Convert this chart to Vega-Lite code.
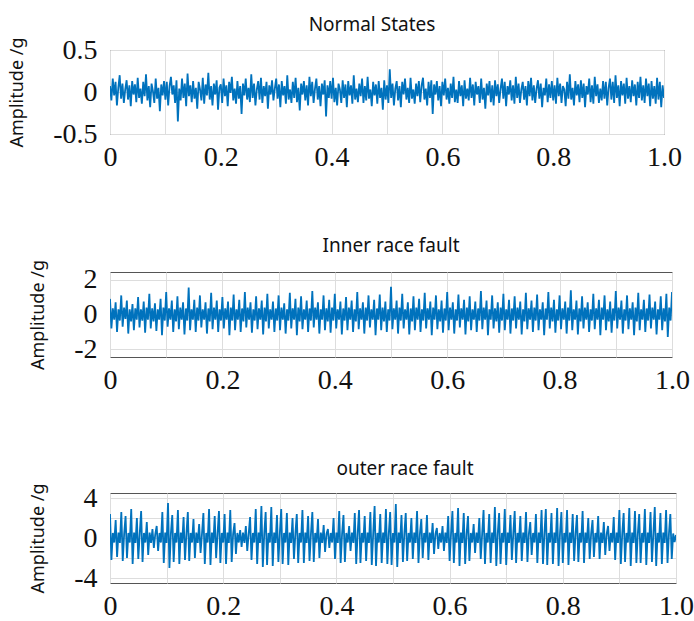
{
"$schema": "https://vega.github.io/schema/vega-lite/v6.json",
"background": "white",
"padding": {"left": 8, "top": 15, "right": 0, "bottom": 0},
"spacing": 64,
"config": {
  "view": {"stroke": "#555", "strokeWidth": 1},
  "axis": {"labelFont": "Liberation Serif", "labelFontSize": 28, "labelColor": "#111", "titleFont": "Noto Sans", "titleFontSize": 18, "titleFontWeight": "normal", "titleColor": "#111", "gridColor": "#dddddd", "gridWidth": 1, "domain": false, "ticks": false, "labelOverlap": false, "labelFlush": false},
  "axisX": {"labelPadding": 9, "labelDx": -6},
  "axisY": {"labelPadding": 13, "titlePadding": 26, "grid": true},
  "title": {"font": "Noto Sans", "fontSize": 19, "fontWeight": "normal", "color": "#111", "frame": "group", "anchor": "middle", "offset": 4}
},
"data": {"values": [
{"t":0,"n":0.07,"i":0.9,"o":2.4},{"t":0.0025,"n":-0.1,"i":-0.8,"o":-2.2},{"t":0.005,"n":0.16,"i":0.35,"o":0.5},{"t":0.0075,"n":-0.04,"i":-0.3,"o":-0.45},{"t":0.01,"n":0.12,"i":0.7,"o":1.8},{"t":0.0125,"n":-0.16,"i":-1.0,"o":-1.9},{"t":0.015,"n":0.05,"i":0.3,"o":0.55},{"t":0.0175,"n":0.2,"i":-0.35,"o":-0.5},{"t":0.02,"n":-0.08,"i":1.1,"o":2.6},{"t":0.0225,"n":0.1,"i":-0.7,"o":-2.3},{"t":0.025,"n":-0.13,"i":0.4,"o":0.4},{"t":0.0275,"n":0.03,"i":-0.25,"o":2.2},{"t":0.03,"n":0.14,"i":0.8,"o":-2.0},{"t":0.0325,"n":-0.09,"i":-1.1,"o":0.5},{"t":0.035,"n":0.08,"i":0.3,"o":-0.45},{"t":0.0375,"n":-0.17,"i":-0.4,"o":2.9},{"t":0.04,"n":0.13,"i":0.6,"o":-2.6},{"t":0.0425,"n":-0.03,"i":-0.9,"o":0.55},{"t":0.045,"n":0.09,"i":0.35,"o":-0.5},{"t":0.0475,"n":-0.12,"i":-0.3,"o":2.0},
{"t":0.05,"n":0.17,"i":1.0,"o":-2.1},{"t":0.0525,"n":-0.07,"i":-0.75,"o":0.4},{"t":0.055,"n":0.04,"i":0.3,"o":2.7},{"t":0.0575,"n":-0.14,"i":-0.35,"o":-2.4},{"t":0.06,"n":0.12,"i":0.75,"o":0.5},{"t":0.0625,"n":-0.05,"i":-1.05,"o":-0.45},{"t":0.065,"n":0.21,"i":0.4,"o":1.6},{"t":0.0675,"n":-0.1,"i":-0.3,"o":-1.7},{"t":0.07,"n":0.07,"i":1.2,"o":0.55},{"t":0.0725,"n":-0.18,"i":-0.8,"o":-0.5},{"t":0.075,"n":0.1,"i":0.35,"o":0.9},{"t":0.0775,"n":0.01,"i":-0.4,"o":-1.0},{"t":0.08,"n":-0.13,"i":0.65,"o":0.4},{"t":0.0825,"n":0.16,"i":-0.95,"o":1.2},{"t":0.085,"n":-0.08,"i":0.3,"o":-1.3},{"t":0.0875,"n":0.05,"i":-0.3,"o":0.5},{"t":0.09,"n":-0.23,"i":0.9,"o":-0.45},{"t":0.0925,"n":0.09,"i":-1.2,"o":2.6},{"t":0.095,"n":-0.04,"i":0.4,"o":-2.5},{"t":0.0975,"n":0.13,"i":-0.35,"o":0.55},
{"t":0.1,"n":-0.09,"i":1.3,"o":-0.5},{"t":0.1025,"n":0.12,"i":-0.7,"o":3.5},{"t":0.105,"n":-0.16,"i":0.35,"o":-3.0},{"t":0.1075,"n":0.07,"i":-0.3,"o":0.4},{"t":0.11,"n":0.18,"i":0.8,"o":2.3},{"t":0.1125,"n":-0.03,"i":-1.0,"o":-2.4},{"t":0.115,"n":0.08,"i":0.3,"o":0.5},{"t":0.1175,"n":-0.13,"i":-0.4,"o":-0.45},{"t":0.12,"n":0.14,"i":1.05,"o":2.8},{"t":0.1225,"n":-0.35,"i":-0.85,"o":-2.6},{"t":0.125,"n":0.04,"i":0.4,"o":0.55},{"t":0.1275,"n":-0.1,"i":-0.3,"o":-0.5},{"t":0.13,"n":0.16,"i":0.7,"o":2.1},{"t":0.1325,"n":-0.07,"i":-1.15,"o":-2.2},{"t":0.135,"n":0.1,"i":0.35,"o":0.4},{"t":0.1375,"n":-0.17,"i":-0.35,"o":2.6},{"t":0.14,"n":0.22,"i":1.55,"o":-2.3},{"t":0.1425,"n":-0.05,"i":-0.9,"o":0.5},{"t":0.145,"n":0.08,"i":0.3,"o":-0.45},{"t":0.1475,"n":-0.12,"i":-0.3,"o":1.9},
{"t":0.15,"n":0.13,"i":0.85,"o":-2.0},{"t":0.1525,"n":-0.08,"i":-1.0,"o":0.55},{"t":0.155,"n":0.05,"i":0.4,"o":-0.5},{"t":0.1575,"n":-0.2,"i":-0.35,"o":1.4},{"t":0.16,"n":0.12,"i":1.1,"o":-1.5},{"t":0.1625,"n":0.03,"i":-0.75,"o":0.4},{"t":0.165,"n":-0.1,"i":0.3,"o":2.5},{"t":0.1675,"n":0.17,"i":-0.3,"o":-2.6},{"t":0.17,"n":-0.14,"i":0.7,"o":0.5},{"t":0.1725,"n":0.09,"i":-1.1,"o":-0.45},{"t":0.175,"n":-0.04,"i":0.35,"o":2.9},{"t":0.1775,"n":0.23,"i":-0.4,"o":-2.7},{"t":0.18,"n":-0.09,"i":1.25,"o":0.55},{"t":0.1825,"n":0.07,"i":-0.85,"o":-0.5},{"t":0.185,"n":-0.16,"i":0.4,"o":2.2},{"t":0.1875,"n":0.1,"i":-0.3,"o":-2.0},{"t":0.19,"n":-0.03,"i":0.8,"o":0.4},{"t":0.1925,"n":0.14,"i":-1.0,"o":2.7},{"t":0.195,"n":-0.21,"i":0.3,"o":-2.5},{"t":0.1975,"n":0.05,"i":-0.35,"o":0.5},
{"t":0.2,"n":0.09,"i":1.0,"o":-0.45},{"t":0.2025,"n":-0.13,"i":-0.8,"o":2.4},{"t":0.205,"n":0.16,"i":0.35,"o":-2.6},{"t":0.2075,"n":-0.05,"i":-0.3,"o":0.55},{"t":0.21,"n":0.08,"i":0.75,"o":-0.5},{"t":0.2125,"n":-0.17,"i":-1.2,"o":2.8},{"t":0.215,"n":0.12,"i":0.4,"o":-2.4},{"t":0.2175,"n":-0.01,"i":-0.35,"o":0.4},{"t":0.22,"n":0.18,"i":1.15,"o":1.5},{"t":0.2225,"n":-0.1,"i":-0.9,"o":-1.6},{"t":0.225,"n":0.04,"i":0.3,"o":0.5},{"t":0.2275,"n":-0.14,"i":-0.3,"o":-0.45},{"t":0.23,"n":0.13,"i":0.85,"o":0.8},{"t":0.2325,"n":-0.08,"i":-1.0,"o":-0.9},{"t":0.235,"n":0.07,"i":0.35,"o":0.55},{"t":0.2375,"n":-0.26,"i":-0.4,"o":-0.5},{"t":0.24,"n":0.1,"i":1.3,"o":1.2},{"t":0.2425,"n":-0.04,"i":-0.75,"o":-1.3},{"t":0.245,"n":0.16,"i":0.4,"o":0.4},{"t":0.2475,"n":-0.09,"i":-0.3,"o":2.1},
{"t":0.25,"n":0.05,"i":0.7,"o":-2.2},{"t":0.2525,"n":-0.12,"i":-1.05,"o":0.5},{"t":0.255,"n":0.21,"i":0.3,"o":-0.45},{"t":0.2575,"n":-0.07,"i":-0.35,"o":2.9},{"t":0.26,"n":0.1,"i":1.05,"o":-2.6},{"t":0.2625,"n":-0.16,"i":-0.85,"o":0.55},{"t":0.265,"n":0.03,"i":0.35,"o":-0.5},{"t":0.2675,"n":0.13,"i":-0.3,"o":3.2},{"t":0.27,"n":-0.09,"i":0.8,"o":-2.9},{"t":0.2725,"n":0.17,"i":-1.15,"o":0.4},{"t":0.275,"n":-0.13,"i":0.4,"o":2.6},{"t":0.2775,"n":0.07,"i":-0.4,"o":-2.7},{"t":0.28,"n":-0.05,"i":1.2,"o":0.5},{"t":0.2825,"n":0.12,"i":-0.8,"o":-0.45},{"t":0.285,"n":-0.2,"i":0.3,"o":3.1},{"t":0.2875,"n":0.08,"i":-0.3,"o":-2.8},{"t":0.29,"n":-0.03,"i":0.75,"o":0.55},{"t":0.2925,"n":0.14,"i":-1.0,"o":-0.5},{"t":0.295,"n":-0.1,"i":0.35,"o":2.3},{"t":0.2975,"n":0.04,"i":-0.35,"o":-2.4},
{"t":0.3,"n":0.16,"i":1.1,"o":0.4},{"t":0.3025,"n":-0.08,"i":-0.9,"o":2.9},{"t":0.305,"n":0.09,"i":0.4,"o":-2.6},{"t":0.3075,"n":-0.18,"i":-0.3,"o":0.5},{"t":0.31,"n":0.13,"i":0.65,"o":-0.45},{"t":0.3125,"n":-0.04,"i":-1.1,"o":2.5},{"t":0.315,"n":0.07,"i":0.3,"o":-2.7},{"t":0.3175,"n":-0.14,"i":-0.35,"o":0.55},{"t":0.32,"n":0.2,"i":1.25,"o":-0.5},{"t":0.3225,"n":-0.09,"i":-0.8,"o":2.0},{"t":0.325,"n":0.03,"i":0.35,"o":-2.1},{"t":0.3275,"n":-0.13,"i":-0.3,"o":0.4},{"t":0.33,"n":0.12,"i":0.9,"o":2.4},{"t":0.3325,"n":-0.07,"i":-1.2,"o":-2.5},{"t":0.335,"n":0.17,"i":0.4,"o":0.5},{"t":0.3375,"n":-0.12,"i":-0.4,"o":-0.45},{"t":0.34,"n":0.05,"i":1.05,"o":2.8},{"t":0.3425,"n":-0.22,"i":-0.85,"o":-2.5},{"t":0.345,"n":0.1,"i":0.3,"o":0.55},{"t":0.3475,"n":-0.03,"i":-0.3,"o":-0.5},
{"t":0.35,"n":0.13,"i":0.8,"o":2.2},{"t":0.3525,"n":-0.1,"i":-1.0,"o":-2.3},{"t":0.355,"n":0.08,"i":0.35,"o":0.4},{"t":0.3575,"n":-0.16,"i":-0.35,"o":2.6},{"t":0.36,"n":0.18,"i":1.35,"o":-2.4},{"t":0.3625,"n":-0.05,"i":-0.75,"o":0.5},{"t":0.365,"n":0.12,"i":0.4,"o":-0.45},{"t":0.3675,"n":-0.13,"i":-0.3,"o":1.9},{"t":0.37,"n":0.04,"i":0.7,"o":-2.0},{"t":0.3725,"n":0.16,"i":-1.1,"o":0.55},{"t":0.375,"n":-0.09,"i":0.3,"o":-0.5},{"t":0.3775,"n":0.07,"i":-0.3,"o":1.3},{"t":0.38,"n":-0.17,"i":1.1,"o":-1.4},{"t":0.3825,"n":0.1,"i":-0.9,"o":0.4},{"t":0.385,"n":-0.03,"i":0.35,"o":0.9},{"t":0.3875,"n":0.14,"i":-0.4,"o":-1.0},{"t":0.39,"n":-0.29,"i":0.85,"o":0.5},{"t":0.3925,"n":0.08,"i":-1.05,"o":-0.45},{"t":0.395,"n":-0.07,"i":0.4,"o":2.0},{"t":0.3975,"n":0.13,"i":-0.35,"o":-2.1},
{"t":0.4,"n":-0.08,"i":1.2,"o":0.55},{"t":0.4025,"n":0.17,"i":-0.8,"o":-0.5},{"t":0.405,"n":-0.12,"i":0.3,"o":2.7},{"t":0.4075,"n":0.05,"i":-0.3,"o":-2.5},{"t":0.41,"n":-0.16,"i":0.75,"o":0.4},{"t":0.4125,"n":0.1,"i":-1.15,"o":2.3},{"t":0.415,"n":0.03,"i":0.35,"o":-2.4},{"t":0.4175,"n":-0.13,"i":-0.35,"o":0.5},{"t":0.42,"n":0.14,"i":1.0,"o":-0.45},{"t":0.4225,"n":-0.07,"i":-0.9,"o":1.2},{"t":0.425,"n":0.09,"i":0.4,"o":-1.3},{"t":0.4275,"n":-0.18,"i":-0.3,"o":0.55},{"t":0.43,"n":0.13,"i":0.8,"o":-0.5},{"t":0.4325,"n":-0.04,"i":-1.0,"o":2.5},{"t":0.435,"n":0.08,"i":0.3,"o":-2.6},{"t":0.4375,"n":-0.14,"i":-0.4,"o":0.4},{"t":0.44,"n":0.2,"i":1.3,"o":2.8},{"t":0.4425,"n":-0.09,"i":-0.85,"o":-2.5},{"t":0.445,"n":0.04,"i":0.35,"o":0.5},{"t":0.4475,"n":-0.12,"i":-0.3,"o":-0.45},
{"t":0.45,"n":0.1,"i":0.7,"o":2.2},{"t":0.4525,"n":-0.05,"i":-1.1,"o":-2.3},{"t":0.455,"n":0.16,"i":0.4,"o":0.55},{"t":0.4575,"n":-0.13,"i":-0.35,"o":-0.5},{"t":0.46,"n":0.07,"i":1.1,"o":2.6},{"t":0.4625,"n":-0.1,"i":-0.75,"o":-2.7},{"t":0.465,"n":0.18,"i":0.3,"o":0.4},{"t":0.4675,"n":-0.08,"i":-0.3,"o":3.2},{"t":0.47,"n":0.03,"i":0.85,"o":-2.8},{"t":0.4725,"n":-0.17,"i":-1.2,"o":0.5},{"t":0.475,"n":0.12,"i":0.35,"o":-0.45},{"t":0.4775,"n":-0.04,"i":-0.3,"o":2.4},{"t":0.48,"n":0.09,"i":1.15,"o":-2.5},{"t":0.4825,"n":-0.14,"i":-0.9,"o":0.55},{"t":0.485,"n":0.13,"i":0.4,"o":-0.5},{"t":0.4875,"n":-0.07,"i":-0.4,"o":2.9},{"t":0.49,"n":0.05,"i":0.75,"o":-2.6},{"t":0.4925,"n":-0.21,"i":-1.0,"o":0.4},{"t":0.495,"n":0.14,"i":0.3,"o":2.6},{"t":0.4975,"n":-0.09,"i":-0.35,"o":-2.7},
{"t":0.5,"n":0.08,"i":1.6,"o":0.5},{"t":0.5025,"n":-0.13,"i":-0.85,"o":-0.45},{"t":0.505,"n":0.27,"i":0.35,"o":3.4},{"t":0.5075,"n":-0.07,"i":-0.3,"o":-2.9},{"t":0.51,"n":0.1,"i":0.8,"o":0.55},{"t":0.5125,"n":-0.16,"i":-1.1,"o":-0.5},{"t":0.515,"n":0.04,"i":0.4,"o":2.3},{"t":0.5175,"n":0.13,"i":-0.35,"o":-2.4},{"t":0.52,"n":-0.1,"i":1.2,"o":0.4},{"t":0.5225,"n":0.07,"i":-0.8,"o":2.5},{"t":0.525,"n":-0.18,"i":0.3,"o":-2.3},{"t":0.5275,"n":0.12,"i":-0.3,"o":0.5},{"t":0.53,"n":-0.03,"i":0.7,"o":-0.45},{"t":0.5325,"n":0.16,"i":-1.15,"o":2.0},{"t":0.535,"n":-0.09,"i":0.35,"o":-2.1},{"t":0.5375,"n":0.05,"i":-0.4,"o":0.55},{"t":0.54,"n":-0.13,"i":1.05,"o":-0.5},{"t":0.5425,"n":0.17,"i":-0.9,"o":2.7},{"t":0.545,"n":-0.08,"i":0.4,"o":-2.5},{"t":0.5475,"n":0.03,"i":-0.3,"o":0.4},
{"t":0.55,"n":-0.14,"i":0.9,"o":1.9},{"t":0.5525,"n":0.1,"i":-1.0,"o":-2.0},{"t":0.555,"n":-0.05,"i":0.3,"o":0.5},{"t":0.5575,"n":0.13,"i":-0.35,"o":-0.45},{"t":0.56,"n":-0.12,"i":1.25,"o":2.3},{"t":0.5625,"n":0.08,"i":-0.8,"o":-2.2},{"t":0.565,"n":0.17,"i":0.35,"o":0.55},{"t":0.5675,"n":-0.09,"i":-0.3,"o":-0.5},{"t":0.57,"n":0.04,"i":0.75,"o":1.5},{"t":0.5725,"n":-0.16,"i":-1.2,"o":-1.6},{"t":0.575,"n":0.12,"i":0.4,"o":0.4},{"t":0.5775,"n":-0.07,"i":-0.3,"o":1.0},{"t":0.58,"n":0.14,"i":1.1,"o":-1.1},{"t":0.5825,"n":-0.26,"i":-0.85,"o":0.5},{"t":0.585,"n":0.09,"i":0.3,"o":-0.45},{"t":0.5875,"n":-0.03,"i":-0.4,"o":1.2},{"t":0.59,"n":0.13,"i":0.8,"o":-1.3},{"t":0.5925,"n":-0.1,"i":-1.05,"o":0.55},{"t":0.595,"n":0.07,"i":0.35,"o":-0.5},{"t":0.5975,"n":-0.17,"i":-0.35,"o":2.2},
{"t":0.6,"n":0.12,"i":1.3,"o":-2.3},{"t":0.6025,"n":-0.04,"i":-0.9,"o":0.4},{"t":0.605,"n":0.16,"i":0.4,"o":2.7},{"t":0.6075,"n":-0.09,"i":-0.3,"o":-2.5},{"t":0.61,"n":0.05,"i":0.7,"o":0.5},{"t":0.6125,"n":-0.14,"i":-1.1,"o":-0.45},{"t":0.615,"n":0.1,"i":0.3,"o":3.0},{"t":0.6175,"n":-0.07,"i":-0.35,"o":-2.8},{"t":0.62,"n":0.18,"i":1.15,"o":0.55},{"t":0.6225,"n":-0.12,"i":-0.75,"o":-0.5},{"t":0.625,"n":0.03,"i":0.35,"o":2.5},{"t":0.6275,"n":-0.13,"i":-0.3,"o":-2.6},{"t":0.63,"n":0.13,"i":0.85,"o":0.4},{"t":0.6325,"n":-0.05,"i":-1.15,"o":2.2},{"t":0.635,"n":0.08,"i":0.4,"o":-2.3},{"t":0.6375,"n":-0.17,"i":-0.4,"o":0.5},{"t":0.64,"n":0.14,"i":1.05,"o":-0.45},{"t":0.6425,"n":-0.08,"i":-0.9,"o":1.4},{"t":0.645,"n":0.04,"i":0.3,"o":-1.5},{"t":0.6475,"n":-0.1,"i":-0.3,"o":0.55},
{"t":0.65,"n":0.17,"i":0.75,"o":-0.5},{"t":0.6525,"n":-0.07,"i":-1.0,"o":2.0},{"t":0.655,"n":0.09,"i":0.35,"o":-2.1},{"t":0.6575,"n":-0.16,"i":-0.35,"o":0.4},{"t":0.66,"n":0.12,"i":1.35,"o":2.8},{"t":0.6625,"n":-0.03,"i":-0.85,"o":-2.6},{"t":0.665,"n":0.07,"i":0.4,"o":0.5},{"t":0.6675,"n":-0.13,"i":-0.3,"o":-0.45},{"t":0.67,"n":0.16,"i":0.8,"o":2.4},{"t":0.6725,"n":-0.09,"i":-1.2,"o":-2.5},{"t":0.675,"n":0.05,"i":0.3,"o":0.55},{"t":0.6775,"n":-0.2,"i":-0.3,"o":-0.5},{"t":0.68,"n":0.1,"i":1.1,"o":3.1},{"t":0.6825,"n":-0.04,"i":-0.8,"o":-2.8},{"t":0.685,"n":0.13,"i":0.35,"o":0.4},{"t":0.6875,"n":-0.12,"i":-0.4,"o":2.5},{"t":0.69,"n":0.08,"i":0.7,"o":-2.6},{"t":0.6925,"n":-0.16,"i":-1.05,"o":0.5},{"t":0.695,"n":0.14,"i":0.4,"o":-0.45},{"t":0.6975,"n":-0.05,"i":-0.35,"o":2.9},
{"t":0.7,"n":0.09,"i":1.2,"o":-2.7},{"t":0.7025,"n":-0.13,"i":-0.9,"o":0.55},{"t":0.705,"n":0.04,"i":0.3,"o":-0.5},{"t":0.7075,"n":0.16,"i":-0.3,"o":2.3},{"t":0.71,"n":-0.08,"i":0.85,"o":-2.2},{"t":0.7125,"n":0.12,"i":-1.1,"o":0.4},{"t":0.715,"n":-0.17,"i":0.35,"o":2.7},{"t":0.7175,"n":0.07,"i":-0.35,"o":-2.5},{"t":0.72,"n":-0.03,"i":1.05,"o":0.5},{"t":0.7225,"n":0.14,"i":-0.8,"o":-0.45},{"t":0.725,"n":-0.1,"i":0.4,"o":2.2},{"t":0.7275,"n":0.08,"i":-0.3,"o":-2.3},{"t":0.73,"n":-0.14,"i":0.75,"o":0.55},{"t":0.7325,"n":0.18,"i":-1.15,"o":-0.5},{"t":0.735,"n":-0.07,"i":0.3,"o":2.6},{"t":0.7375,"n":0.1,"i":-0.4,"o":-2.4},{"t":0.74,"n":-0.13,"i":1.25,"o":0.4},{"t":0.7425,"n":0.03,"i":-0.85,"o":1.6},{"t":0.745,"n":0.12,"i":0.35,"o":-1.7},{"t":0.7475,"n":-0.09,"i":-0.3,"o":0.5},
{"t":0.75,"n":0.07,"i":0.8,"o":-0.45},{"t":0.7525,"n":-0.16,"i":-1.0,"o":2.4},{"t":0.755,"n":0.13,"i":0.4,"o":-2.5},{"t":0.7575,"n":-0.05,"i":-0.35,"o":0.55},{"t":0.76,"n":0.17,"i":1.15,"o":-0.5},{"t":0.7625,"n":-0.1,"i":-0.9,"o":2.8},{"t":0.765,"n":0.08,"i":0.3,"o":-2.6},{"t":0.7675,"n":-0.13,"i":-0.3,"o":0.4},{"t":0.77,"n":0.04,"i":0.7,"o":2.9},{"t":0.7725,"n":0.14,"i":-1.2,"o":-2.7},{"t":0.775,"n":-0.08,"i":0.35,"o":0.5},{"t":0.7775,"n":0.1,"i":-0.3,"o":-0.45},{"t":0.78,"n":-0.18,"i":1.3,"o":2.5},{"t":0.7825,"n":0.05,"i":-0.8,"o":-2.6},{"t":0.785,"n":-0.04,"i":0.4,"o":0.55},{"t":0.7875,"n":0.16,"i":-0.4,"o":-0.5},{"t":0.79,"n":-0.12,"i":0.85,"o":3.0},{"t":0.7925,"n":0.09,"i":-1.05,"o":-2.8},{"t":0.795,"n":-0.07,"i":0.3,"o":0.4},{"t":0.7975,"n":0.13,"i":-0.35,"o":2.6},
{"t":0.8,"n":-0.1,"i":1.1,"o":-2.5},{"t":0.8025,"n":0.08,"i":-0.85,"o":0.5},{"t":0.805,"n":-0.14,"i":0.35,"o":-0.45},{"t":0.8075,"n":0.17,"i":-0.3,"o":2.8},{"t":0.81,"n":-0.05,"i":0.75,"o":-2.7},{"t":0.8125,"n":0.1,"i":-1.1,"o":0.55},{"t":0.815,"n":-0.13,"i":0.4,"o":-0.5},{"t":0.8175,"n":0.07,"i":-0.35,"o":2.4},{"t":0.82,"n":0.03,"i":1.4,"o":-2.3},{"t":0.8225,"n":-0.17,"i":-0.9,"o":0.4},{"t":0.825,"n":0.12,"i":0.3,"o":2.3},{"t":0.8275,"n":-0.08,"i":-0.3,"o":-2.4},{"t":0.83,"n":0.21,"i":0.8,"o":0.5},{"t":0.8325,"n":-0.09,"i":-1.15,"o":-0.45},{"t":0.835,"n":0.05,"i":0.35,"o":2.7},{"t":0.8375,"n":-0.16,"i":-0.4,"o":-2.5},{"t":0.84,"n":0.13,"i":1.05,"o":0.55},{"t":0.8425,"n":-0.04,"i":-0.8,"o":-0.5},{"t":0.845,"n":0.09,"i":0.4,"o":2.0},{"t":0.8475,"n":-0.12,"i":-0.3,"o":-2.1},
{"t":0.85,"n":0.14,"i":0.7,"o":0.4},{"t":0.8525,"n":-0.07,"i":-1.0,"o":1.8},{"t":0.855,"n":0.1,"i":0.3,"o":-1.9},{"t":0.8575,"n":-0.18,"i":-0.35,"o":0.5},{"t":0.86,"n":0.07,"i":1.2,"o":-0.45},{"t":0.8625,"n":-0.03,"i":-0.85,"o":2.2},{"t":0.865,"n":0.16,"i":0.35,"o":-2.1},{"t":0.8675,"n":-0.12,"i":-0.3,"o":0.55},{"t":0.87,"n":0.08,"i":0.85,"o":-0.5},{"t":0.8725,"n":-0.14,"i":-1.2,"o":1.6},{"t":0.875,"n":0.18,"i":0.4,"o":-1.7},{"t":0.8775,"n":-0.05,"i":-0.3,"o":0.4},{"t":0.88,"n":0.09,"i":1.1,"o":1.2},{"t":0.8825,"n":-0.13,"i":-0.9,"o":-1.3},{"t":0.885,"n":0.04,"i":0.3,"o":0.5},{"t":0.8875,"n":-0.1,"i":-0.4,"o":-0.45},{"t":0.89,"n":0.13,"i":0.75,"o":2.1},{"t":0.8925,"n":-0.08,"i":-1.05,"o":-2.2},{"t":0.895,"n":0.12,"i":0.35,"o":0.55},{"t":0.8975,"n":-0.16,"i":-0.35,"o":-0.5},
{"t":0.9,"n":0.05,"i":1.35,"o":2.8},{"t":0.9025,"n":0.16,"i":-0.8,"o":-2.6},{"t":0.905,"n":-0.09,"i":0.4,"o":0.4},{"t":0.9075,"n":0.12,"i":-0.3,"o":2.5},{"t":0.91,"n":-0.13,"i":0.8,"o":-2.4},{"t":0.9125,"n":0.2,"i":-1.1,"o":0.5},{"t":0.915,"n":-0.07,"i":0.3,"o":-0.45},{"t":0.9175,"n":0.08,"i":-0.35,"o":3.0},{"t":0.92,"n":-0.17,"i":1.1,"o":-2.8},{"t":0.9225,"n":0.13,"i":-0.85,"o":0.55},{"t":0.925,"n":-0.04,"i":0.35,"o":-0.5},{"t":0.9275,"n":0.1,"i":-0.3,"o":2.7},{"t":0.93,"n":-0.14,"i":0.7,"o":-2.5},{"t":0.9325,"n":0.17,"i":-1.2,"o":0.4},{"t":0.935,"n":-0.08,"i":0.4,"o":2.4},{"t":0.9375,"n":0.07,"i":-0.4,"o":-2.5},{"t":0.94,"n":-0.12,"i":1.25,"o":0.5},{"t":0.9425,"n":0.14,"i":-0.9,"o":-0.45},{"t":0.945,"n":-0.05,"i":0.3,"o":2.9},{"t":0.9475,"n":0.09,"i":-0.3,"o":-2.7},
{"t":0.95,"n":-0.16,"i":0.85,"o":0.55},{"t":0.9525,"n":0.12,"i":-1.0,"o":-0.5},{"t":0.955,"n":-0.07,"i":0.35,"o":2.6},{"t":0.9575,"n":0.18,"i":-0.35,"o":-2.4},{"t":0.96,"n":-0.1,"i":1.15,"o":0.4},{"t":0.9625,"n":0.08,"i":-0.8,"o":3.1},{"t":0.965,"n":-0.13,"i":0.4,"o":-2.8},{"t":0.9675,"n":0.16,"i":-0.3,"o":0.5},{"t":0.97,"n":-0.05,"i":0.75,"o":-0.45},{"t":0.9725,"n":0.1,"i":-1.15,"o":2.5},{"t":0.975,"n":-0.17,"i":0.3,"o":-2.6},{"t":0.9775,"n":0.13,"i":-0.3,"o":0.55},{"t":0.98,"n":-0.08,"i":1.05,"o":-0.5},{"t":0.9825,"n":0.07,"i":-0.9,"o":2.8},{"t":0.985,"n":-0.14,"i":0.35,"o":-2.5},{"t":0.9875,"n":0.17,"i":-0.4,"o":0.4},{"t":0.99,"n":-0.09,"i":1.2,"o":2.4},{"t":0.9925,"n":0.12,"i":-1.3,"o":-2.1},{"t":0.995,"n":-0.18,"i":0.4,"o":0.45},{"t":0.9975,"n":0.08,"i":-0.35,"o":-0.4},
{"t":1,"n":-0.07,"i":1.3,"o":0.3}
]},
"vconcat": [
  {
    "width": 554, "height": 84,
    "title": {"text": "Normal States", "dx": -15, "offset": 1},
    "mark": {"type": "line", "color": "#0072BD", "strokeWidth": 1.8, "clip": true},
    "encoding": {
      "x": {"field": "t", "type": "quantitative", "title": null, "scale": {"domain": [0, 1], "nice": false, "zero": false},
            "axis": {"values": [0, 0.1, 0.2, 0.3, 0.4, 0.5, 0.6, 0.7, 0.8, 0.9, 1], "labelExpr": "datum.value == 1 ? '1.0' : (round(datum.value * 10) % 2 == 0 ? '' + datum.value : '')"}},
      "y": {"field": "n", "type": "quantitative", "title": "Amplitude /g", "scale": {"domain": [-0.5, 0.5], "nice": false, "zero": false},
            "axis": {"values": [-0.5, 0, 0.5], "labelExpr": "'' + datum.value"}}
    }
  },
  {
    "width": 562, "height": 85,
    "title": {"text": "Inner race fault", "dx": 0},
    "mark": {"type": "line", "color": "#0072BD", "strokeWidth": 1.8, "clip": true},
    "encoding": {
      "x": {"field": "t", "type": "quantitative", "title": null, "scale": {"domain": [0, 1], "nice": false, "zero": false},
            "axis": {"values": [0, 0.1, 0.2, 0.3, 0.4, 0.5, 0.6, 0.7, 0.8, 0.9, 1], "labelExpr": "datum.value == 1 ? '1.0' : (round(datum.value * 10) % 2 == 0 ? '' + datum.value : '')"}},
      "y": {"field": "i", "type": "quantitative", "title": "Amplitude /g", "scale": {"domain": [-2.45, 2.45], "nice": false, "zero": false},
            "axis": {"values": [-2, 0, 2], "labelExpr": "'' + datum.value"}}
    }
  },
  {
    "width": 566, "height": 90,
    "title": {"text": "outer race fault", "dx": 12},
    "mark": {"type": "line", "color": "#0072BD", "strokeWidth": 1.8, "clip": true},
    "encoding": {
      "x": {"field": "t", "type": "quantitative", "title": null, "scale": {"domain": [0, 1], "nice": false, "zero": false},
            "axis": {"values": [0, 0.1, 0.2, 0.3, 0.4, 0.5, 0.6, 0.7, 0.8, 0.9, 1], "labelDx": -9, "labelExpr": "datum.value == 1 ? '1.0' : (round(datum.value * 10) % 2 == 0 ? '' + datum.value : '')"}},
      "y": {"field": "o", "type": "quantitative", "title": "Amplitude /g", "scale": {"domain": [-4.5, 4.5], "nice": false, "zero": false},
            "axis": {"values": [-4, -2, 0, 2, 4], "labelExpr": "abs(datum.value) == 2 ? '' : '' + datum.value"}}
    }
  }
]
}
